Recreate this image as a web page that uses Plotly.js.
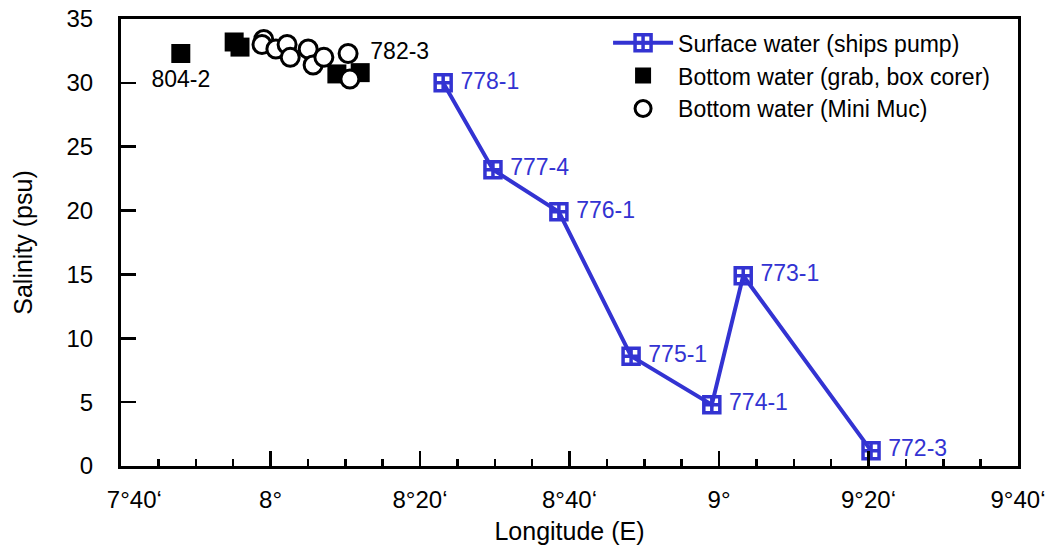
<!DOCTYPE html>
<html>
<head>
<meta charset="utf-8">
<script src="https://cdn.plot.ly/plotly-3.0.1.min.js"></script>
<style>html,body{margin:0;padding:0;background:#fff;}#chart{width:1046px;height:545px;}</style>
</head>
<body>
<div id="chart"></div>
<script>
// Surface water (ships pump) — longitude in decimal degrees E, salinity psu
const surfaceStations = ["778-1", "777-4", "776-1", "775-1", "774-1", "773-1", "772-3"];
const surfaceLon = [8.385, 8.496, 8.643, 8.804, 8.984, 9.054, 9.339];
const surfaceSal = [30.0, 23.2, 19.9, 8.6, 4.8, 14.9, 1.2];

// Bottom water (grab, box corer)
const grabLon = [7.800, 7.919, 7.932, 8.148, 8.200];
const grabSal = [32.3, 33.2, 32.8, 30.7, 30.8];
const grabLabels = ["804-2", "", "", "", ""];

// Bottom water (Mini Muc)
const mucLon = [7.985, 7.981, 8.012, 8.037, 8.044, 8.084, 8.095, 8.119, 8.173, 8.177];
const mucSal = [33.4, 33.0, 32.65, 33.0, 32.0, 32.65, 31.4, 32.0, 32.3, 30.3];
const mucLabels = ["", "", "", "", "", "", "", "", "782-3", ""];

// Axis ticks (degrees E)
const xTickVals = [7 + 40/60, 8, 8 + 20/60, 8 + 40/60, 9, 9 + 20/60, 9 + 40/60];
const xTickText = ["\u00a0\u00a0\u00a0\u00a07°40‘", "8°", "8°20‘", "8°40‘", "9°", "9°20‘", "9°40‘"];
const yTickVals = [0, 5, 10, 15, 20, 25, 30, 35];

const FONT = '"Liberation Sans", Arial, Helvetica, sans-serif';
const BLUE = '#3333d2';

const minorVals = [];
for (let m = 0; m <= 24; m++) minorVals.push(7 + 40/60 + m * 5/60);

const traces = [
  {
    x: grabLon, y: grabSal, type: 'scatter', mode: 'markers',
    name: 'Bottom water (grab, box corer)', legendrank: 2,
    marker: {symbol: 'square', size: 19, color: '#000', line: {width: 0}},
    hoverinfo: 'x+y'
  },
  {
    x: mucLon, y: mucSal, type: 'scatter', mode: 'markers',
    name: 'Bottom water (Mini Muc)', legendrank: 3,
    marker: {symbol: 'circle', size: 18, color: '#fff', line: {width: 3, color: '#000'}},
    hoverinfo: 'x+y'
  },
  {
    x: surfaceLon, y: surfaceSal, type: 'scatter', mode: 'lines+markers',
    name: 'Surface water (ships pump)', legendrank: 1,
    line: {color: BLUE, width: 4},
    marker: {symbol: 'square-cross-open', size: 16, color: BLUE, line: {width: 3.5, color: BLUE}},
    hoverinfo: 'x+y'
  },
  {
    x: surfaceLon, y: surfaceSal, type: 'scatter', mode: 'markers+text',
    text: surfaceStations, textposition: 'middle right', showlegend: false,
    textfont: {family: FONT, size: 23, color: BLUE},
    marker: {size: 26, color: 'rgba(0,0,0,0)'}, hoverinfo: 'skip'
  },
  {
    x: grabLon, y: grabSal, type: 'scatter', mode: 'markers+text',
    text: grabLabels, textposition: 'bottom center', showlegend: false,
    textfont: {family: FONT, size: 23, color: '#000'},
    marker: {size: 24, color: 'rgba(0,0,0,0)'}, hoverinfo: 'skip'
  },
  {
    x: mucLon, y: mucSal, type: 'scatter', mode: 'markers+text',
    text: mucLabels, textposition: 'middle right', showlegend: false,
    textfont: {family: FONT, size: 23, color: '#000'},
    marker: {size: 34, color: 'rgba(0,0,0,0)'}, hoverinfo: 'skip'
  }
];

const layout = {
  width: 1046, height: 545,
  margin: {l: 121, r: 28, t: 19, b: 79, pad: 0},
  paper_bgcolor: '#fff', plot_bgcolor: '#fff',
  font: {family: FONT, size: 23, color: '#000'},
  showlegend: true,
  legend: {
    x: 0.543, y: 0.995, xanchor: 'left', yanchor: 'top',
    bgcolor: 'rgba(0,0,0,0)', borderwidth: 0,
    font: {family: FONT, size: 23, color: '#000'},
    itemwidth: 60, tracegroupgap: 0
  },
  xaxis: {
    range: [7 + 40/60, 9 + 40/60], tickmode: 'array', tickvals: xTickVals, ticktext: xTickText,
    ticks: 'inside', ticklen: 15, tickwidth: 2.5, tickcolor: '#000',
    showline: true, linewidth: 3, linecolor: '#000', mirror: true,
    showgrid: false, zeroline: false,
    tickfont: {family: FONT, size: 24, color: '#000'}, ticklabelstandoff: 10,
    minor: {tickmode: 'array', tickvals: minorVals, ticks: 'inside', ticklen: 7, tickwidth: 2.5, tickcolor: '#000', showgrid: false},
    title: {text: 'Longitude (E)', font: {family: FONT, size: 25, color: '#000'}, standoff: 14}
  },
  yaxis: {
    range: [0, 35], tickmode: 'array', tickvals: yTickVals,
    ticks: 'inside', ticklen: 15, tickwidth: 2.5, tickcolor: '#000',
    showline: true, linewidth: 3, linecolor: '#000', mirror: true,
    showgrid: false, zeroline: false,
    tickfont: {family: FONT, size: 24, color: '#000'}, ticklabelstandoff: 20,
    title: {text: 'Salinity (psu)', font: {family: FONT, size: 25, color: '#000'}, standoff: 27}
  }
};

Plotly.newPlot('chart', traces, layout, {displayModeBar: false, staticPlot: true});
</script>
</body>
</html>
